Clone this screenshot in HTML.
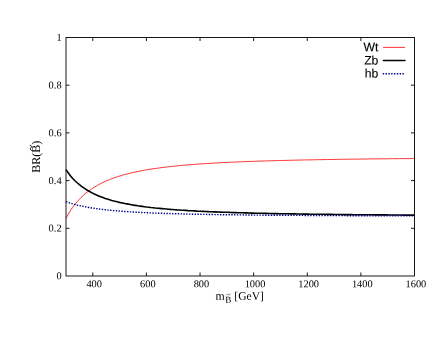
<!DOCTYPE html>
<html><head><meta charset="utf-8"><title>BR plot</title>
<style>
html,body{margin:0;padding:0;background:#fff;}
body{width:441px;height:341px;overflow:hidden;}
svg{display:block;will-change:transform;}
text{font-family:"Liberation Serif",serif;fill:#000;text-rendering:geometricPrecision;}
text.s{font-family:"Liberation Sans",sans-serif;}
</style></head><body>
<svg width="441" height="341" viewBox="0 0 441 341">
<rect width="441" height="341" fill="#fff"/>
<!-- curves -->
<g fill="none" stroke-linejoin="round">
<path d="M66.0,218.3 68.2,214.3 70.4,210.7 72.5,207.5 74.7,204.6 76.9,202.0 79.1,199.6 81.2,197.4 83.4,195.3 85.6,193.4 87.8,191.7 90.0,190.1 92.1,188.6 94.3,187.2 96.5,185.9 98.7,184.6 100.8,183.5 103.0,182.4 105.2,181.4 107.4,180.5 109.6,179.6 111.7,178.7 113.9,177.9 116.1,177.2 118.3,176.5 120.5,175.8 122.6,175.1 124.8,174.5 127.0,174.0 129.2,173.4 131.3,172.9 133.5,172.4 135.7,171.9 137.9,171.5 140.1,171.0 142.2,170.6 144.4,170.2 146.6,169.8 148.8,169.5 150.9,169.1 153.1,168.8 155.3,168.5 157.5,168.2 159.7,167.9 161.8,167.6 164.0,167.3 166.2,167.0 168.4,166.8 170.6,166.5 172.7,166.3 174.9,166.1 177.1,165.9 179.3,165.6 181.4,165.4 183.6,165.2 185.8,165.1 188.0,164.9 190.2,164.7 192.3,164.5 194.5,164.4 196.7,164.2 198.9,164.0 201.0,163.9 203.2,163.7 205.4,163.6 207.6,163.5 209.8,163.3 211.9,163.2 214.1,163.1 216.3,163.0 218.5,162.8 220.6,162.7 222.8,162.6 225.0,162.5 227.2,162.4 229.4,162.3 231.5,162.2 233.7,162.1 235.9,162.0 238.1,161.9 240.2,161.8 242.4,161.7 244.6,161.6 246.8,161.6 249.0,161.5 251.1,161.4 253.3,161.3 255.5,161.3 257.7,161.2 259.9,161.1 262.0,161.0 264.2,161.0 266.4,160.9 268.6,160.8 270.7,160.8 272.9,160.7 275.1,160.7 277.3,160.6 279.5,160.5 281.6,160.5 283.8,160.4 286.0,160.4 288.2,160.3 290.3,160.3 292.5,160.2 294.7,160.2 296.9,160.1 299.1,160.1 301.2,160.0 303.4,160.0 305.6,159.9 307.8,159.9 309.9,159.9 312.1,159.8 314.3,159.8 316.5,159.7 318.7,159.7 320.8,159.7 323.0,159.6 325.2,159.6 327.4,159.5 329.6,159.5 331.7,159.5 333.9,159.4 336.1,159.4 338.3,159.4 340.4,159.3 342.6,159.3 344.8,159.3 347.0,159.2 349.2,159.2 351.3,159.2 353.5,159.2 355.7,159.1 357.9,159.1 360.0,159.1 362.2,159.0 364.4,159.0 366.6,159.0 368.8,159.0 370.9,158.9 373.1,158.9 375.3,158.9 377.5,158.9 379.7,158.8 381.8,158.8 384.0,158.8 386.2,158.8 388.4,158.8 390.5,158.7 392.7,158.7 394.9,158.7 397.1,158.7 399.3,158.6 401.4,158.6 403.6,158.6 405.8,158.6 408.0,158.6 410.1,158.6 412.3,158.5 414.5,158.5" stroke="#ff0000" stroke-width="0.8"/>
<path d="M66.0,169.6 68.2,172.8 70.4,175.7 72.5,178.2 74.7,180.5 76.9,182.5 79.1,184.4 81.2,186.2 83.4,187.7 85.6,189.2 87.8,190.5 90.0,191.8 92.1,192.9 94.3,194.0 96.5,195.0 98.7,195.9 100.8,196.8 103.0,197.6 105.2,198.4 107.4,199.1 109.6,199.7 111.7,200.4 113.9,201.0 116.1,201.5 118.3,202.1 120.5,202.6 122.6,203.0 124.8,203.5 127.0,203.9 129.2,204.3 131.3,204.7 133.5,205.1 135.7,205.4 137.9,205.8 140.1,206.1 142.2,206.4 144.4,206.7 146.6,207.0 148.8,207.2 150.9,207.5 153.1,207.7 155.3,208.0 157.5,208.2 159.7,208.4 161.8,208.6 164.0,208.8 166.2,209.0 168.4,209.2 170.6,209.4 172.7,209.5 174.9,209.7 177.1,209.9 179.3,210.0 181.4,210.2 183.6,210.3 185.8,210.4 188.0,210.6 190.2,210.7 192.3,210.8 194.5,210.9 196.7,211.1 198.9,211.2 201.0,211.3 203.2,211.4 205.4,211.5 207.6,211.6 209.8,211.7 211.9,211.8 214.1,211.9 216.3,211.9 218.5,212.0 220.6,212.1 222.8,212.2 225.0,212.3 227.2,212.3 229.4,212.4 231.5,212.5 233.7,212.6 235.9,212.6 238.1,212.7 240.2,212.8 242.4,212.8 244.6,212.9 246.8,212.9 249.0,213.0 251.1,213.1 253.3,213.1 255.5,213.2 257.7,213.2 259.9,213.3 262.0,213.3 264.2,213.4 266.4,213.4 268.6,213.5 270.7,213.5 272.9,213.6 275.1,213.6 277.3,213.6 279.5,213.7 281.6,213.7 283.8,213.8 286.0,213.8 288.2,213.8 290.3,213.9 292.5,213.9 294.7,213.9 296.9,214.0 299.1,214.0 301.2,214.0 303.4,214.1 305.6,214.1 307.8,214.1 309.9,214.2 312.1,214.2 314.3,214.2 316.5,214.3 318.7,214.3 320.8,214.3 323.0,214.3 325.2,214.4 327.4,214.4 329.6,214.4 331.7,214.4 333.9,214.5 336.1,214.5 338.3,214.5 340.4,214.5 342.6,214.6 344.8,214.6 347.0,214.6 349.2,214.6 351.3,214.6 353.5,214.7 355.7,214.7 357.9,214.7 360.0,214.7 362.2,214.7 364.4,214.8 366.6,214.8 368.8,214.8 370.9,214.8 373.1,214.8 375.3,214.9 377.5,214.9 379.7,214.9 381.8,214.9 384.0,214.9 386.2,214.9 388.4,215.0 390.5,215.0 392.7,215.0 394.9,215.0 397.1,215.0 399.3,215.0 401.4,215.0 403.6,215.1 405.8,215.1 408.0,215.1 410.1,215.1 412.3,215.1 414.5,215.1" stroke="#000" stroke-width="1.6"/>
<path d="M66.0,201.6 68.2,202.4 70.4,203.1 72.5,203.8 74.7,204.4 76.9,205.0 79.1,205.5 81.2,206.0 83.4,206.4 85.6,206.9 87.8,207.3 90.0,207.6 92.1,208.0 94.3,208.3 96.5,208.6 98.7,208.9 100.8,209.2 103.0,209.5 105.2,209.7 107.4,210.0 109.6,210.2 111.7,210.4 113.9,210.6 116.1,210.8 118.3,211.0 120.5,211.1 122.6,211.3 124.8,211.5 127.0,211.6 129.2,211.8 131.3,211.9 133.5,212.0 135.7,212.2 137.9,212.3 140.1,212.4 142.2,212.5 144.4,212.6 146.6,212.7 148.8,212.8 150.9,212.9 153.1,213.0 155.3,213.1 157.5,213.2 159.7,213.2 161.8,213.3 164.0,213.4 166.2,213.5 168.4,213.5 170.6,213.6 172.7,213.7 174.9,213.7 177.1,213.8 179.3,213.8 181.4,213.9 183.6,214.0 185.8,214.0 188.0,214.1 190.2,214.1 192.3,214.2 194.5,214.2 196.7,214.3 198.9,214.3 201.0,214.3 203.2,214.4 205.4,214.4 207.6,214.5 209.8,214.5 211.9,214.5 214.1,214.6 216.3,214.6 218.5,214.6 220.6,214.7 222.8,214.7 225.0,214.7 227.2,214.8 229.4,214.8 231.5,214.8 233.7,214.8 235.9,214.9 238.1,214.9 240.2,214.9 242.4,214.9 244.6,215.0 246.8,215.0 249.0,215.0 251.1,215.0 253.3,215.1 255.5,215.1 257.7,215.1 259.9,215.1 262.0,215.1 264.2,215.2 266.4,215.2 268.6,215.2 270.7,215.2 272.9,215.2 275.1,215.2 277.3,215.3 279.5,215.3 281.6,215.3 283.8,215.3 286.0,215.3 288.2,215.3 290.3,215.4 292.5,215.4 294.7,215.4 296.9,215.4 299.1,215.4 301.2,215.4 303.4,215.4 305.6,215.5 307.8,215.5 309.9,215.5 312.1,215.5 314.3,215.5 316.5,215.5 318.7,215.5 320.8,215.5 323.0,215.5 325.2,215.6 327.4,215.6 329.6,215.6 331.7,215.6 333.9,215.6 336.1,215.6 338.3,215.6 340.4,215.6 342.6,215.6 344.8,215.6 347.0,215.7 349.2,215.7 351.3,215.7 353.5,215.7 355.7,215.7 357.9,215.7 360.0,215.7 362.2,215.7 364.4,215.7 366.6,215.7 368.8,215.7 370.9,215.7 373.1,215.7 375.3,215.8 377.5,215.8 379.7,215.8 381.8,215.8 384.0,215.8 386.2,215.8 388.4,215.8 390.5,215.8 392.7,215.8 394.9,215.8 397.1,215.8 399.3,215.8 401.4,215.8 403.6,215.8 405.8,215.8 408.0,215.8 410.1,215.9 412.3,215.9 414.5,215.9" stroke="#00008b" stroke-width="1.4" stroke-dasharray="1.41,1.41"/>
</g>
<!-- frame and ticks -->
<g stroke="#000" stroke-width="0.9" fill="none">
<rect x="66.0" y="37.5" width="348.50" height="238.50"/>
<path d="M92.81,276.0v-3.5M92.81,37.5v3.5M146.42,276.0v-3.5M146.42,37.5v3.5M200.04,276.0v-3.5M200.04,37.5v3.5M253.65,276.0v-3.5M253.65,37.5v3.5M307.27,276.0v-3.5M307.27,37.5v3.5M360.88,276.0v-3.5M360.88,37.5v3.5M66.0,228.30h3.5M414.5,228.30h-3.5M66.0,180.60h3.5M414.5,180.60h-3.5M66.0,132.90h3.5M414.5,132.90h-3.5M66.0,85.20h3.5M414.5,85.20h-3.5"/>
</g>
<!-- tick labels -->
<g>
<g font-size="10.4">
<text transform="translate(94.21,287.30) rotate(0.04)" text-anchor="middle">400</text>
<text transform="translate(147.82,287.30) rotate(0.04)" text-anchor="middle">600</text>
<text transform="translate(201.44,287.30) rotate(0.04)" text-anchor="middle">800</text>
<text transform="translate(255.05,287.30) rotate(0.04)" text-anchor="middle">1000</text>
<text transform="translate(308.67,287.30) rotate(0.04)" text-anchor="middle">1200</text>
<text transform="translate(362.28,287.30) rotate(0.04)" text-anchor="middle">1400</text>
<text transform="translate(415.90,287.30) rotate(0.04)" text-anchor="middle">1600</text>
<text transform="translate(61.60,279.30) rotate(0.04)" text-anchor="end">0</text>
<text transform="translate(61.60,231.60) rotate(0.04)" text-anchor="end">0.2</text>
<text transform="translate(61.60,183.90) rotate(0.04)" text-anchor="end">0.4</text>
<text transform="translate(61.60,136.20) rotate(0.04)" text-anchor="end">0.6</text>
<text transform="translate(61.60,88.50) rotate(0.04)" text-anchor="end">0.8</text>
<text transform="translate(61.60,40.80) rotate(0.04)" text-anchor="end">1</text>
</g>
<!-- axis titles -->
<g font-size="12">
<text transform="translate(215.60,299.80) rotate(0.04)" font-size="11.8">m</text>
<text transform="translate(225.20,302.80) rotate(0.04)" font-size="9.2">B</text>
<path d="M-1.9,0.45 C-1.3,-0.9 -0.5,-0.45 0,0 C0.5,0.45 1.3,0.9 1.9,-0.45" transform="translate(228.4,294.5)" fill="none" stroke="#000" stroke-width="0.5" stroke-linecap="round"/>
<text transform="translate(234.30,299.80) rotate(0.04)" font-size="11.6">[GeV]</text>
<text transform="translate(40.00,156.80) rotate(-89.96)" text-anchor="middle" font-size="12">BR(B)</text>
<path d="M-2.6,0.6 C-1.7,-1.2 -0.6,-0.6 0,0 C0.6,0.6 1.7,1.2 2.6,-0.6" transform="translate(30.9,147.8) rotate(-90)" fill="none" stroke="#000" stroke-width="0.95" stroke-linecap="round"/>
</g>
<!-- legend -->
<g font-size="12.2" stroke="#000" stroke-width="0.12">
<text transform="translate(378.40,51.20) rotate(0.04)" text-anchor="end" class="s">Wt</text>
<text transform="translate(378.40,64.40) rotate(0.04)" text-anchor="end" class="s">Zb</text>
<text transform="translate(378.40,77.40) rotate(0.04)" text-anchor="end" class="s">hb</text>
</g>
</g>
<g fill="none">
<line x1="383" y1="47.4" x2="405.1" y2="47.4" stroke="#ff0000" stroke-width="0.8"/>
<line x1="383.4" y1="60.55" x2="404.9" y2="60.55" stroke="#000" stroke-width="1.6" stroke-linecap="round"/>
<line x1="382.75" y1="73.8" x2="404" y2="73.8" stroke="#00008b" stroke-width="1.4" stroke-dasharray="1.41,1.41"/>
</g>
</svg>
</body></html>
